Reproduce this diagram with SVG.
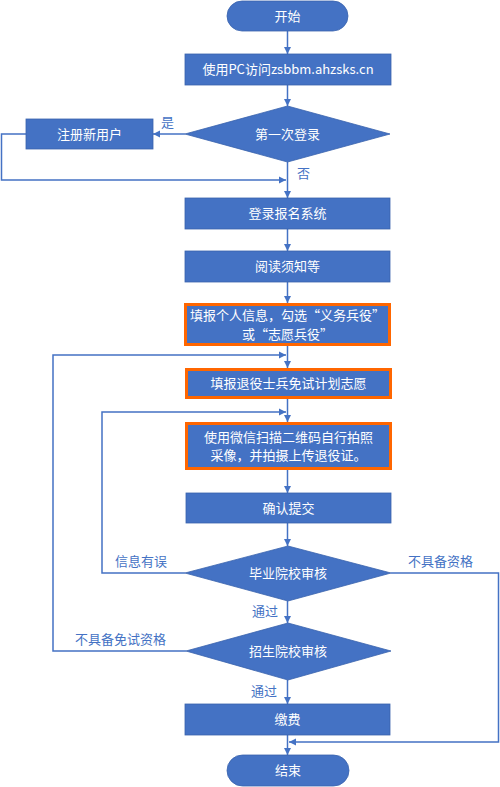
<svg xmlns="http://www.w3.org/2000/svg" width="500" height="787" viewBox="0 0 500 787">
<style>
.n{fill:#4472C4;stroke:#3A63AD;stroke-width:0.8}
.o{fill:#4472C4;stroke:#FF6600;stroke-width:3}
.t{font-family:"Noto Sans CJK SC","Liberation Sans",sans-serif;font-size:13px;fill:#FFFFFF;text-anchor:middle}
.l{font-family:"Noto Sans CJK SC","Liberation Sans",sans-serif;font-size:13px;fill:#4472C4}
.c{fill:none;stroke:#4472C4;stroke-width:1.5;marker-end:url(#a)}
</style>
<defs>
<marker id="a" markerUnits="userSpaceOnUse" markerWidth="8" markerHeight="8" refX="7" refY="4" orient="auto">
<path d="M0,0.5 L7,4 L0,7.5 z" fill="#4472C4"/>
</marker>
</defs>
<rect width="500" height="787" fill="#FFFFFF"/>
<g id="connectors">
<path class="c" d="M287.5,31 V54"/>
<path class="c" d="M287.5,85 V106"/>
<path class="c" d="M185,134 H153"/>
<path class="c" d="M26,134 H1.5 V180 H286"/>
<path class="c" d="M287.5,162 V198"/>
<path class="c" d="M287.5,229 V251"/>
<path class="c" d="M287.5,282 V303"/>
<path class="c" d="M287.5,346 V368"/>
<path class="c" d="M186,651 H53 V355 H286"/>
<path class="c" d="M287.5,399 V422"/>
<path class="c" d="M185,573 H102 V412 H286"/>
<path class="c" d="M287.5,469 V493"/>
<path class="c" d="M287.5,523 V546"/>
<path class="c" d="M287.5,601 V623"/>
<path class="c" d="M391,573 H498.5 V742 H289"/>
<path class="c" d="M287.5,680 V704"/>
<path class="c" d="M287.5,735 V755"/>
</g>
<g id="start"><rect class="n" x="227" y="1" width="121" height="30" rx="15"/><text class="t" x="287.5" y="20.5">开始</text></g>
<g id="visit"><rect class="n" x="185" y="54" width="206" height="31"/><text class="t" x="288" y="74">使用PC访问zsbbm.ahzsks.cn</text></g>
<g id="firstLogin"><polygon class="n" points="287.5,106 390,134 287.5,162 185,134"/><text class="t" x="287.5" y="138.5">第一次登录</text></g>
<g id="register"><rect class="n" x="26" y="119" width="127" height="30"/><text class="t" x="89.5" y="138.5">注册新用户</text></g>
<g id="loginSys"><rect class="n" x="185" y="198" width="205" height="31"/><text class="t" x="287.5" y="218">登录报名系统</text></g>
<g id="read"><rect class="n" x="185" y="251" width="205" height="31"/><text class="t" x="287.5" y="271">阅读须知等</text></g>
<g id="fillInfo"><rect class="o" x="185.5" y="304.5" width="204" height="40"/><text class="t" x="287.5" y="320">填报个人信息，勾选“义务兵役”</text><text class="t" x="287.5" y="338.5">或“志愿兵役”</text></g>
<g id="fillPlan"><rect class="o" x="186.5" y="369.5" width="204" height="28"/><text class="t" x="288.5" y="388">填报退役士兵免试计划志愿</text></g>
<g id="photo"><rect class="o" x="186.5" y="423.5" width="204" height="45"/><text class="t" x="288.5" y="441.5">使用微信扫描二维码自行拍照</text><text class="t" x="288.5" y="460">采像，并拍摄上传退役证。</text></g>
<g id="confirm"><rect class="n" x="186" y="493" width="205" height="30"/><text class="t" x="288.5" y="512.5">确认提交</text></g>
<g id="gradReview"><polygon class="n" points="288,546 391,573 288,601 185,573"/><text class="t" x="288" y="578">毕业院校审核</text></g>
<g id="admReview"><polygon class="n" points="288,623 391,651 288,680 186,651"/><text class="t" x="288" y="656">招生院校审核</text></g>
<g id="pay"><rect class="n" x="185" y="704" width="205" height="31"/><text class="t" x="287.5" y="724">缴费</text></g>
<g id="end"><rect class="n" x="227" y="755" width="122" height="31" rx="15.5"/><text class="t" x="288" y="775">结束</text></g>
<g id="labels">
<text class="l" x="161" y="127">是</text>
<text class="l" x="297" y="178">否</text>
<text class="l" x="115" y="566">信息有误</text>
<text class="l" x="408" y="566">不具备资格</text>
<text class="l" x="252" y="616">通过</text>
<text class="l" x="75" y="644">不具备免试资格</text>
<text class="l" x="251" y="696">通过</text>
</g>
</svg>
